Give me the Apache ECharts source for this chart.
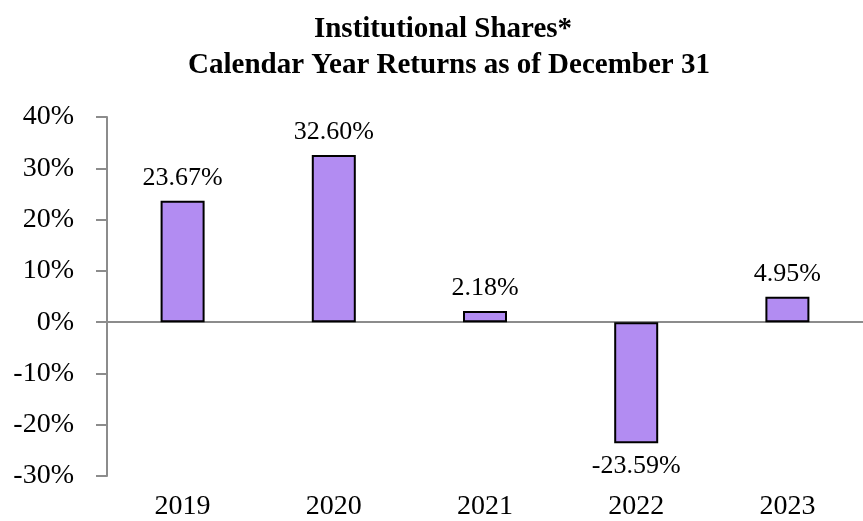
<!DOCTYPE html>
<html>
<head>
<meta charset="utf-8">
<script src="https://cdn.jsdelivr.net/npm/echarts@6/dist/echarts.min.js"></script>
<style>
  html, body { margin: 0; padding: 0; background: #fff; }
  #chart { width: 863px; height: 521px; }
</style>
</head>
<body>
<div id="chart"></div>
<script>
  // data
  const years = ['2019', '2020', '2021', '2022', '2023'];
  const returns = [23.67, 32.60, 2.18, -23.59, 4.95];
  const titleLines = ['Institutional Shares*', 'Calendar Year Returns as of December 31'];

  const serif = "'Times New Roman', 'Liberation Serif', serif";
  const axisGrey = '#8c8c8c';

  const chart = echarts.init(document.getElementById('chart'));

  const barData = returns.map(v => ({
    value: v,
    label: { position: v < 0 ? 'bottom' : 'top' }
  }));

  const option = {
    animation: false,
    backgroundColor: '#fff',
    title: [
      {
        text: titleLines[0],
        left: 438, top: 10, textAlign: 'center',
        textStyle: { fontFamily: serif, fontWeight: 'bold', fontSize: 29, color: '#000' }
      },
      {
        text: titleLines[1],
        left: 444, top: 46, textAlign: 'center',
        textStyle: { fontFamily: serif, fontWeight: 'bold', fontSize: 29, color: '#000' }
      }
    ],
    grid: {
      left: 107,
      top: 117,
      width: 768,
      height: 362,
      containLabel: false
    },
    xAxis: [
      {
        // line through zero
        type: 'category',
        data: years,
        position: 'bottom',
        axisLine: { onZero: true, lineStyle: { color: axisGrey, width: 2 } },
        axisTick: { show: false },
        axisLabel: { show: false }
      },
      {
        // year labels at the bottom
        type: 'category',
        data: years,
        position: 'bottom',
        axisLine: { show: false, onZero: false },
        axisTick: { show: false },
        axisLabel: { margin: 17, fontFamily: serif, fontSize: 28, color: '#000' }
      }
    ],
    yAxis: {
      type: 'value',
      min: -30,
      max: 40,
      interval: 10,
      axisLine: { show: true, lineStyle: { color: axisGrey, width: 2 } },
      axisTick: { show: true, length: 11, lineStyle: { color: axisGrey, width: 2 } },
      splitLine: { show: false },
      axisLabel: {
        margin: 33,
        formatter: '{value}%',
        fontFamily: serif,
        fontSize: 28,
        color: '#000'
      }
    },
    series: [{
      type: 'bar',
      xAxisIndex: 0,
      data: barData,
      barWidth: 44,
      itemStyle: {
        color: '#b28cf2',
        borderColor: '#000',
        borderWidth: 2
      },
      label: {
        show: true,
        distance: 10,
        fontFamily: serif,
        fontSize: 26,
        color: '#000',
        formatter: p => p.value.toFixed(2) + '%'
      }
    }]
  };

  chart.setOption(option);
</script>
</body>
</html>
